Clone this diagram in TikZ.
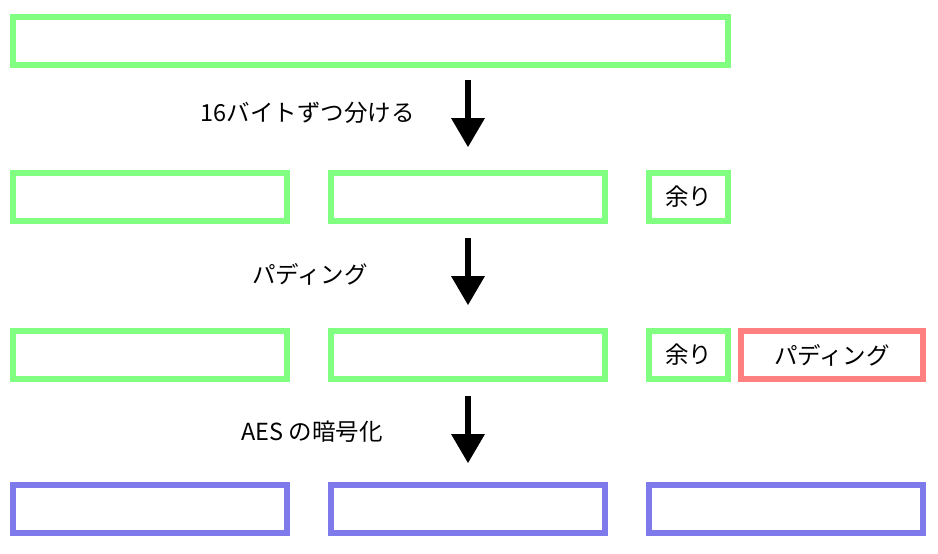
\documentclass[tikz,border=0pt]{standalone}
\usepackage{fontspec}
\newfontfamily\jp{Noto Sans CJK JP}
\usetikzlibrary{arrows.meta}
\definecolor{gboxc}{RGB}{128,255,128}
\definecolor{pboxc}{RGB}{255,128,128}
\definecolor{bboxc}{RGB}{126,122,236}
\tikzset{
  blk/.style={draw, line width=6pt, minimum height=48pt, inner sep=0pt, outer sep=0pt, font=\jp\fontsize{23.5}{23.5}\selectfont},
  gblk/.style={blk, draw=gboxc},
  pblk/.style={blk, draw=pboxc},
  bblk/.style={blk, draw=bboxc},
  lbl/.style={font=\jp\fontsize{23.5}{23.5}\selectfont, inner sep=0pt},
  darrow/.style={line width=6pt, -{Triangle[width=34pt,length=29pt,line width=0pt]}}
}
\begin{document}
\begin{tikzpicture}[x=1pt,y=-1pt]
\useasboundingbox[fill=white] (0,0) rectangle (938,554);
% row 1
\node[gblk, minimum width=715pt] (r1) at (370.5,41) {};
% row 2
\node[gblk, minimum width=274pt] (r2a) at (150,197) {};
\node[gblk, minimum width=274pt] (r2b) at (468,197) {};
\node[gblk, minimum width=79pt] (r2c) at (688.5,197) {余り};
% row 3
\node[gblk, minimum width=274pt] (r3a) at (150,355) {};
\node[gblk, minimum width=274pt] (r3b) at (468,355) {};
\node[gblk, minimum width=79pt] (r3c) at (688.5,355) {余り};
\node[pblk, minimum width=182pt] (r3d) at (832,355) {パディング};
% row 4
\node[bblk, minimum width=274pt] (r4a) at (150,509) {};
\node[bblk, minimum width=274pt] (r4b) at (468,509) {};
\node[bblk, minimum width=274pt] (r4c) at (786,509) {};
% arrows
\coordinate (a1s) at (468,80);  \coordinate (a1e) at (468,147);
\coordinate (a2s) at (468,238); \coordinate (a2e) at (468,305);
\coordinate (a3s) at (468,396); \coordinate (a3e) at (468,463);
\draw[darrow] (a1s) -- (a1e);
\draw[darrow] (a2s) -- (a2e);
\draw[darrow] (a3s) -- (a3e);
% labels
\node[lbl] (l1) at (307.5,113) {16バイトずつ分ける};
\node[lbl] (l2) at (310,274) {パディング};
\node[lbl] (l3) at (312,432) {AES の暗号化};
\end{tikzpicture}
\end{document}
